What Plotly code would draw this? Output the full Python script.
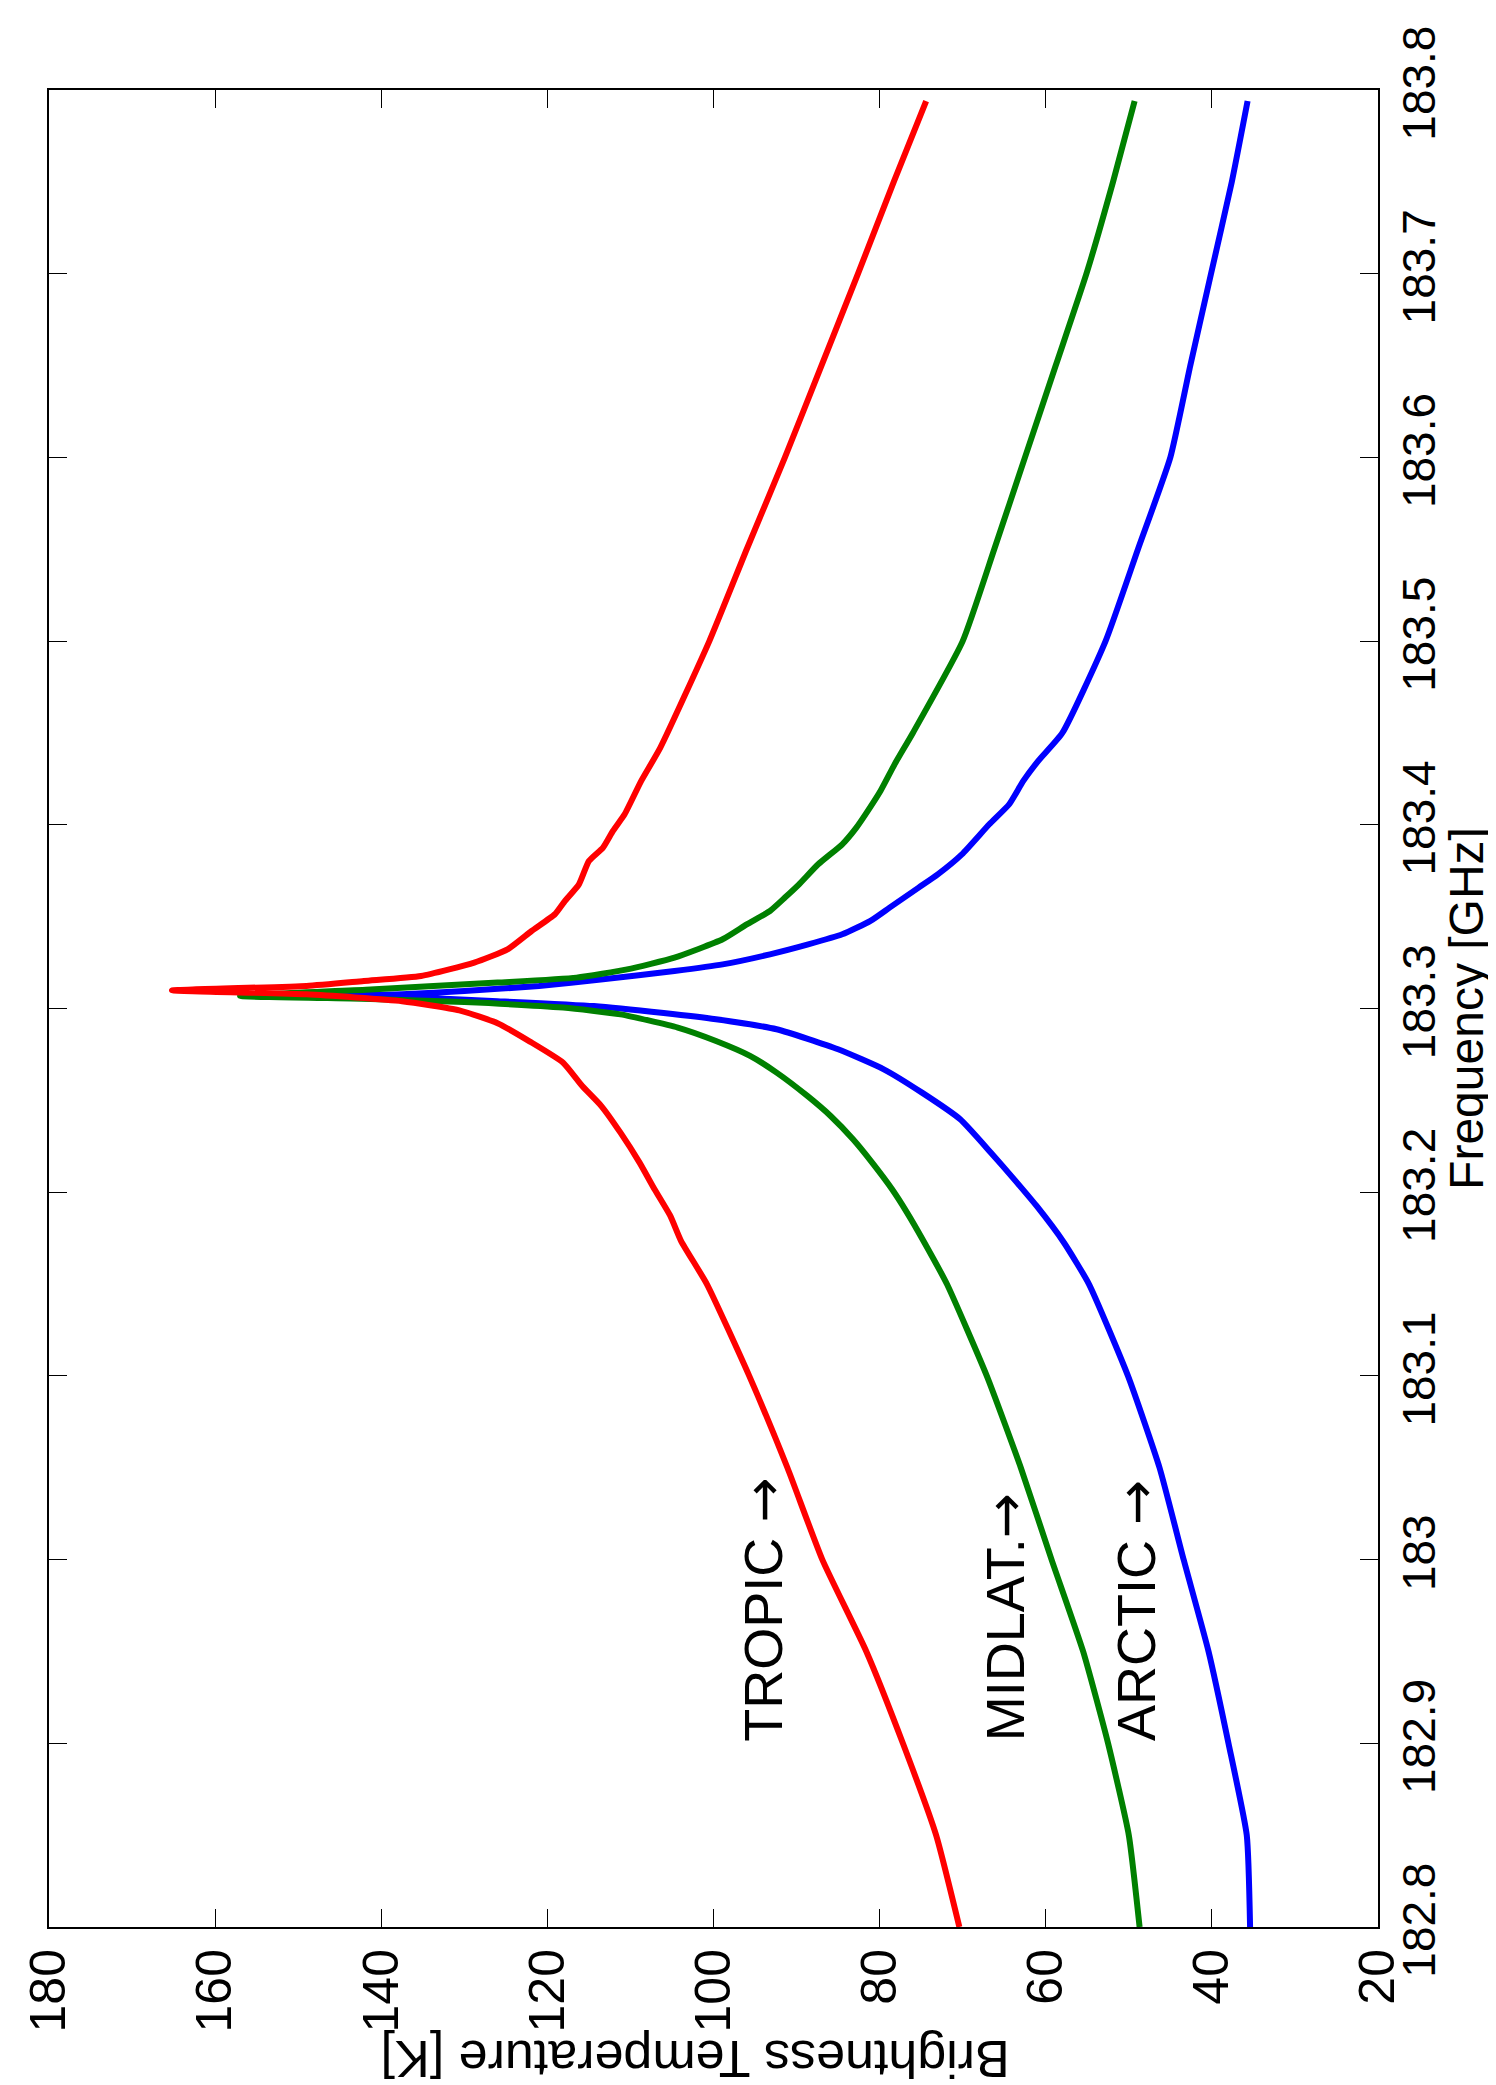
import plotly.graph_objects as go

# ---------------- data ----------------
freq_tropic = [182.80, 182.85, 182.90, 182.95, 183.00, 183.05, 183.10, 183.15, 183.1734,
               183.1871, 183.2016, 183.2161, 183.2324, 183.2469, 183.2578, 183.2705,
               183.282, 183.292, 183.299, 183.304, 183.3077, 183.3099, 183.3123,
               183.315, 183.3177, 183.325, 183.3322, 183.3422, 183.3513, 183.3585,
               183.3676, 183.3803, 183.3876, 183.3967, 183.4057, 183.4239, 183.442,
               183.50, 183.55, 183.60, 183.65, 183.70, 183.75, 183.794]
tb_tropic = [70.4, 73.2, 77.2, 81.6, 86.9, 91.1, 95.7, 100.8, 103.9,
             105.2, 107.1, 108.9, 111.2, 113.5, 115.8, 118.1,
             122.1, 126.0, 130.6, 137.5, 149.0, 165.2, 149.0,
             142.1, 135.2, 128.8, 124.8, 121.9, 119.1, 117.9,
             116.2, 115.0, 113.3, 112.1, 110.7, 108.7, 106.4,
             100.5, 96.0, 91.4, 87.0, 82.6, 78.3, 74.4]

freq_midlat = [182.80, 182.85, 182.90, 182.95, 183.00, 183.05, 183.10, 183.15, 183.1725,
               183.1889, 183.2016, 183.2161, 183.2288, 183.2415, 183.2524, 183.2651,
               183.2742, 183.2823, 183.2896, 183.2968, 183.3005, 183.3035, 183.3052,
               183.3068, 183.3104, 183.3141, 183.3168, 183.3213, 183.3277, 183.3377,
               183.3458, 183.3531, 183.3604, 183.3676, 183.3785, 183.3894, 183.3985,
               183.4057, 183.4184, 183.4329, 183.45, 183.50, 183.55, 183.60, 183.65,
               183.70, 183.75, 183.794]
tb_midlat = [48.7, 50.0, 52.5, 55.5, 59.3, 63.0, 67.1, 71.9, 74.6,
             76.7, 78.5, 80.9, 83.2, 85.9, 88.7, 92.4,
             95.6, 99.7, 104.3, 111.2, 118.1, 130.0, 141.3,
             157.0, 141.3, 126.0, 116.5, 110.4, 104.7, 98.9,
             96.0, 93.2, 91.4, 89.7, 87.4, 84.5, 82.8,
             81.7, 79.9, 78.2, 76.0, 70.0, 66.2, 62.5, 58.8,
             55.1, 51.9, 49.3]

freq_arctic = [182.80, 182.85, 182.90, 182.95, 183.00, 183.05, 183.10, 183.15, 183.1725,
               183.1925, 183.207, 183.2215, 183.2397, 183.2542, 183.2669, 183.2778,
               183.2887, 183.2941, 183.2975, 183.3013, 183.3040, 183.3063, 183.3070,
               183.3077, 183.3095, 183.3123, 183.3159, 183.3204, 183.3240, 183.3295,
               183.3349, 183.3404, 183.3477, 183.3549, 183.3658, 183.3730, 183.3839,
               183.4003, 183.4112, 183.4239, 183.4348, 183.45, 183.50, 183.55, 183.60,
               183.65, 183.70, 183.75, 183.794]
tb_arctic = [35.4, 35.8, 38.0, 40.4, 43.4, 46.3, 50.1, 54.8, 57.8,
             61.1, 63.8, 66.6, 70.3, 74.9, 79.5, 85.0,
             92.4, 99.7, 106.0, 114.4, 126.0, 137.5, 145.0,
             137.5, 130.0, 121.0, 113.3, 104.7, 98.9, 93.2,
             88.6, 84.5, 81.1, 78.8, 75.3, 73.0, 70.1,
             66.8, 64.4, 62.7, 60.9, 58.0, 52.8, 48.9, 45.0,
             42.6, 40.1, 37.6, 35.7]

temp_ticks = [20, 40, 60, 80, 100, 120, 140, 160, 180]
freq_ticks = [182.8, 182.9, 183.0, 183.1, 183.2, 183.3, 183.4, 183.5, 183.6, 183.7, 183.8]
freq_tick_text = ["182.8", "182.9", "183", "183.1", "183.2", "183.3",
                  "183.4", "183.5", "183.6", "183.7", "183.8"]

label_names = ["TROPIC ", "MIDLAT.", "ARCTIC "]
label_tb = [94.0, 64.9, 49.0]
label_freq = [182.9, 182.9, 182.9]

FONT = "Liberation Sans, Arial, Helvetica, sans-serif"
ARROW = "<span style='font-family:DejaVu Sans'>\u2192</span>"

fig = go.Figure()
for f, t, c in [(freq_arctic, tb_arctic, "#0000ff"),
                (freq_midlat, tb_midlat, "#008000"),
                (freq_tropic, tb_tropic, "#ff0000")]:
    fig.add_trace(go.Scatter(x=t, y=f, mode="lines",
                             line=dict(color=c, width=6, shape="spline", smoothing=0.5),
                             showlegend=False))

for name, t, f in zip(label_names, label_tb, label_freq):
    fig.add_annotation(x=t, y=f, xref="x", yref="y", text=name + ARROW, showarrow=False,
                       textangle=-90, xanchor="center", yanchor="bottom",
                       font=dict(size=54, color="black", family=FONT))

fig.add_annotation(x=0.486, y=-0.0715, xref="paper", yref="paper",
                   text="Brightness Temperature [K]", showarrow=False,
                   textangle=180, xanchor="center", yanchor="middle",
                   font=dict(size=52, color="black", family=FONT))

fig.add_annotation(x=1.0665, y=0.5, xref="paper", yref="paper",
                   text="Frequency [GHz]", showarrow=False,
                   textangle=-90, xanchor="center", yanchor="middle",
                   font=dict(size=48, color="black", family=FONT))

fig.update_layout(
    width=1496, height=2085,
    margin=dict(l=33, r=126, t=82, b=166),
    paper_bgcolor="white", plot_bgcolor="white",
    font=dict(family=FONT, size=50, color="black"),
    xaxis=dict(range=[180, 20], tickvals=temp_ticks, tickangle=-90,
               ticks="inside", ticklen=18, tickcolor="black", tickwidth=1,
               showline=True, linecolor="black", linewidth=2, mirror="ticks",
               showgrid=False, zeroline=False, side="bottom",
               tickfont=dict(size=50, family=FONT)),
    yaxis=dict(range=[182.8, 183.8], tickvals=freq_ticks, ticktext=freq_tick_text,
               tickangle=-90, side="right",
               ticks="inside", ticklen=18, tickcolor="black", tickwidth=1,
               showline=True, linecolor="black", linewidth=2, mirror="ticks",
               showgrid=False, zeroline=False,
               tickfont=dict(size=46, family=FONT)),
)

fig.write_html("out.html")
